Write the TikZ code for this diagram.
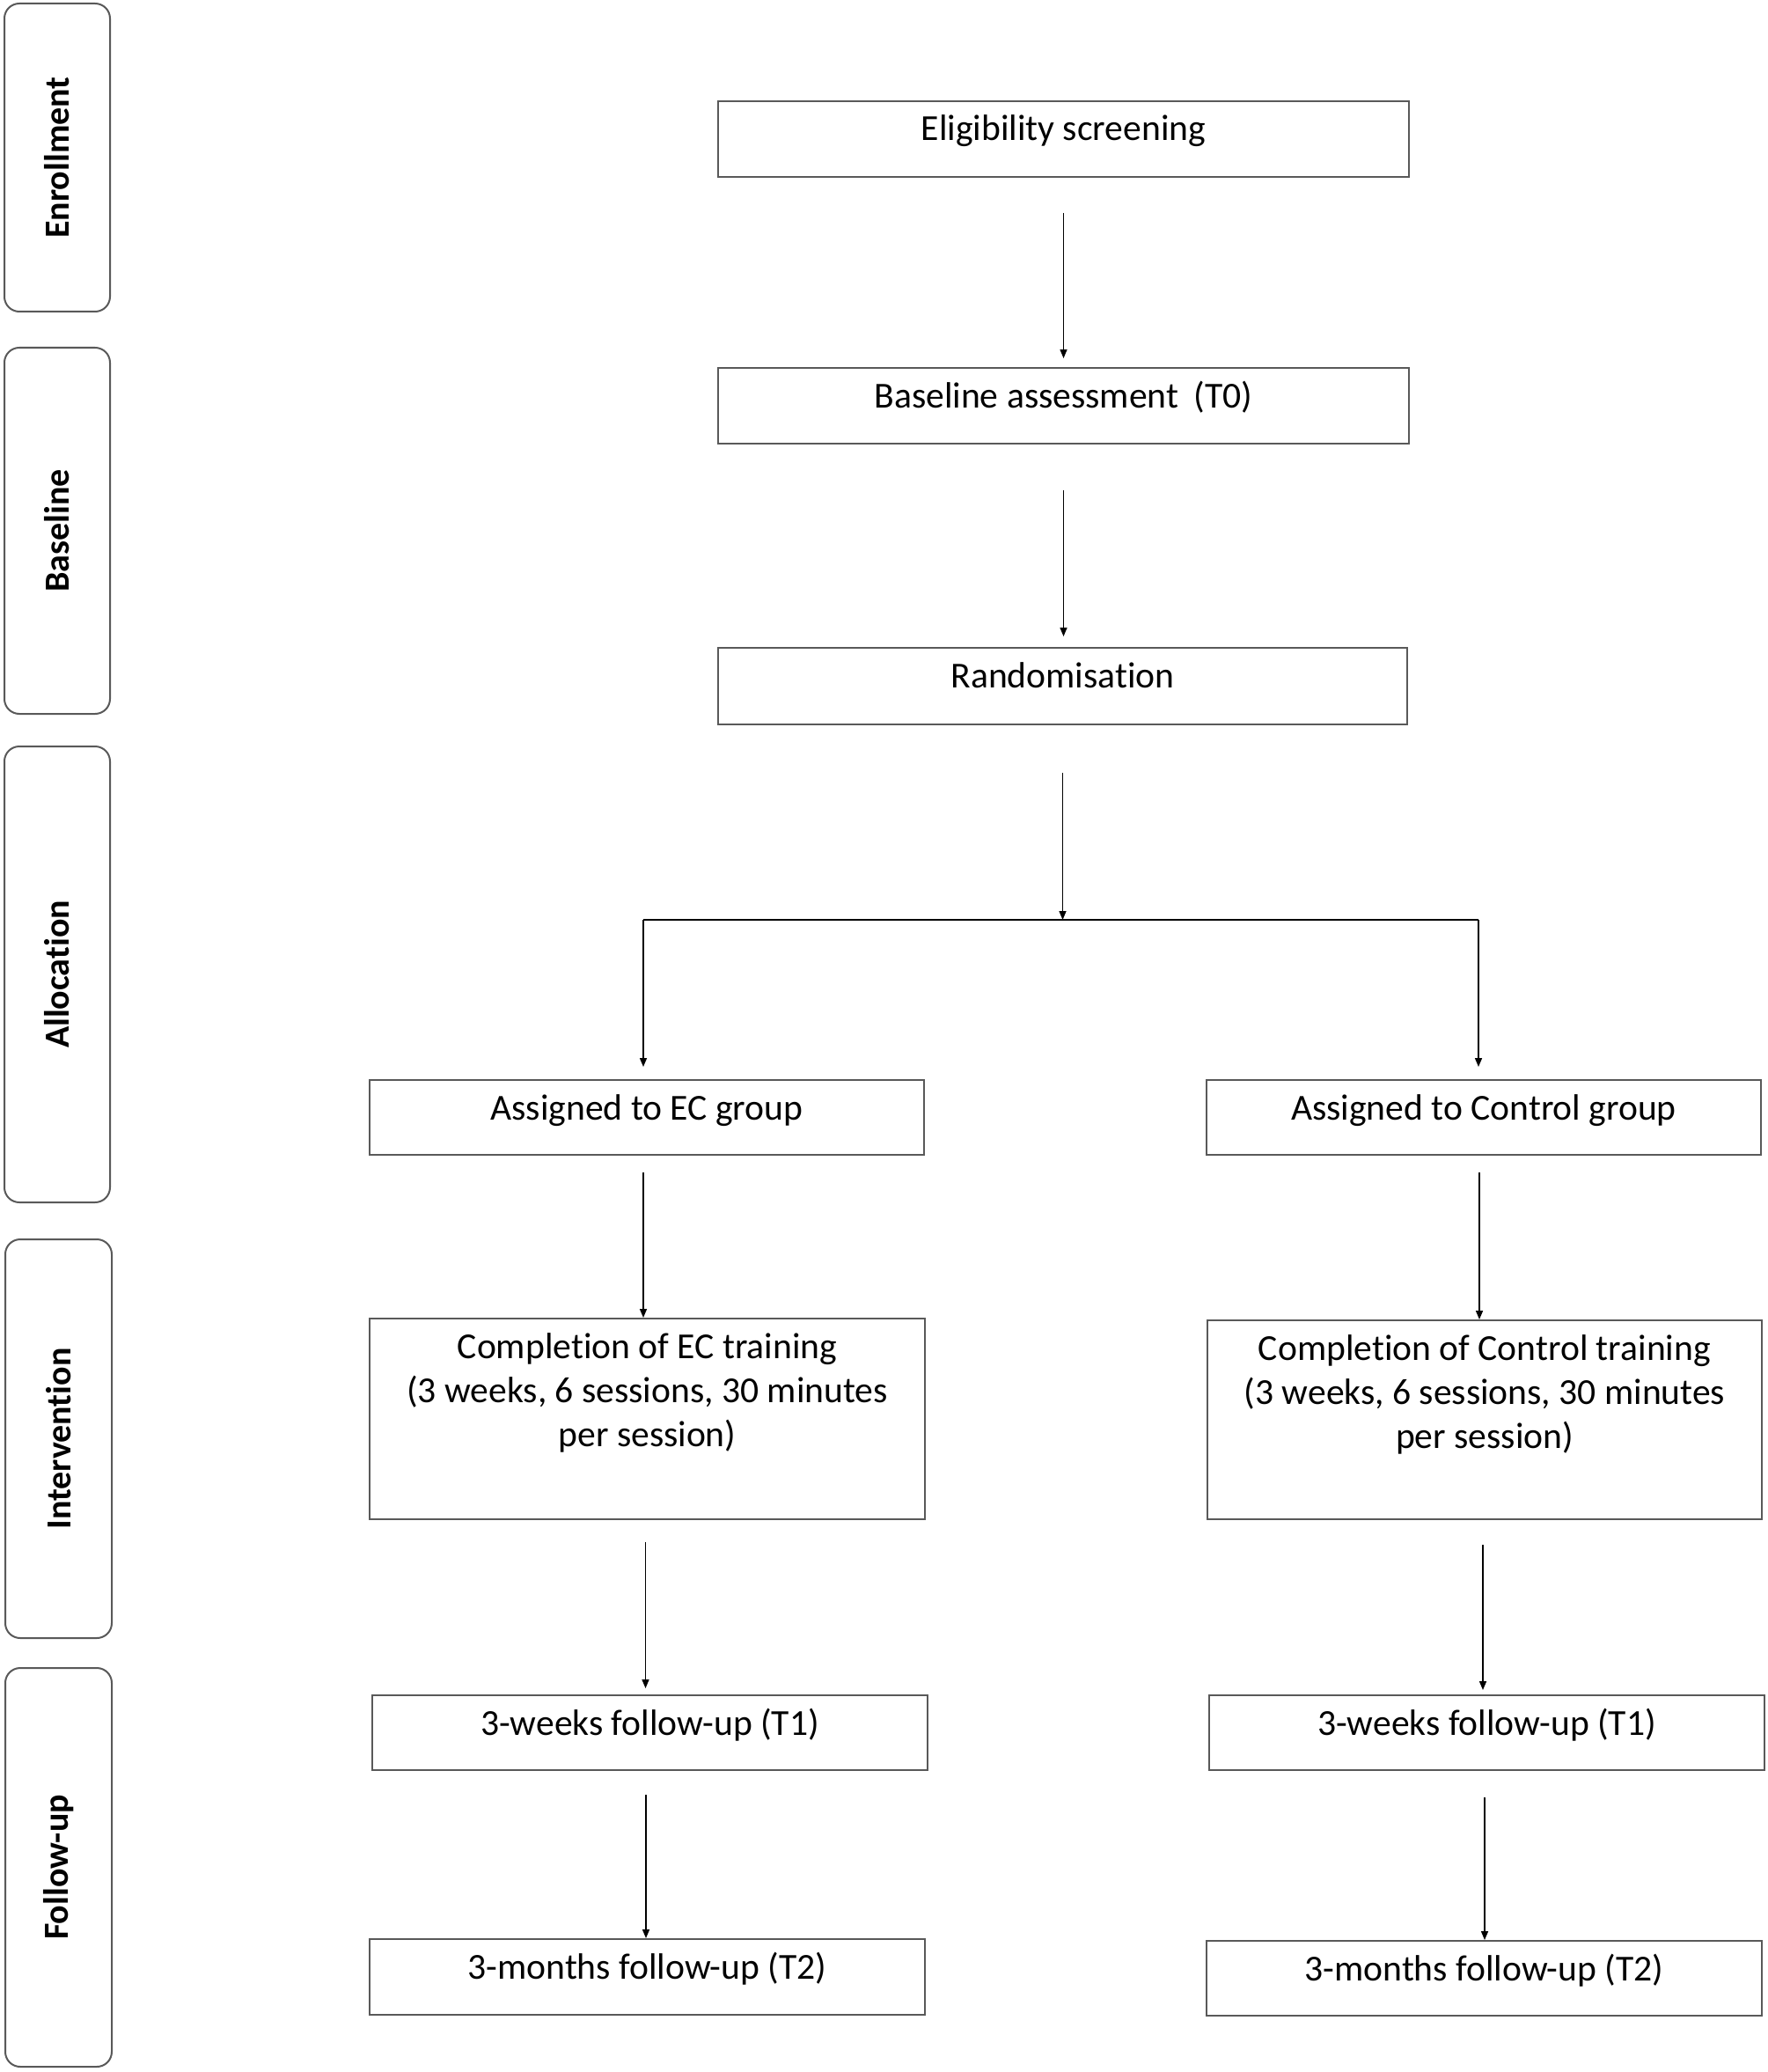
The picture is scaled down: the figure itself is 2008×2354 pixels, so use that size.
\documentclass[tikz,border=0pt]{standalone}
\usepackage{fontspec}
\setmainfont{Carlito}[Ligatures=NoCommon]
\usetikzlibrary{arrows.meta}
\begin{document}
\begin{tikzpicture}[x=0.5pt,y=-0.5pt,
  box/.style={draw=black!65, line width=1pt, inner sep=0pt, anchor=north west},
  phase/.style={draw=black!65, line width=1pt, rounded corners=8.5pt, inner sep=0pt, anchor=north west, minimum width=60pt},
  plabel/.style={rotate=90, font=\bfseries\fontsize{20}{24}\selectfont, inner sep=0pt},
  txt/.style={anchor=base, align=center, inner sep=0pt, font=\fontsize{20.8}{25}\selectfont},
  arr/.style={draw=black, line width=0.75pt, -{Triangle[length=5pt,width=4pt]}},
  ln/.style={draw=black, line width=0.75pt}]
\useasboundingbox (0,0) rectangle (2008,2354);

% phase boxes
\node[phase, minimum height=175pt] (enr) at (4,3) {};
\node[phase, minimum height=208pt] (bas) at (4,394) {};
\node[phase, minimum height=259pt] (alo) at (4,847) {};
\node[phase, minimum height=226.5pt, minimum width=60.5pt] (int) at (5,1407) {};
\node[phase, minimum height=226.5pt, minimum width=60.5pt] (fol) at (5,1894) {};
\node[plabel] (enrt) at (enr.center) {Enrollment};
\node[plabel] (bast) at (bas.center) {Baseline};
\node[plabel] (alot) at (alo.center) {Allocation};
\node[plabel] (intt) at (int.center) {Intervention};
\node[plabel] (folt) at (fol.center) {Follow-up};

% main boxes
\node[box, minimum width=392.5pt, minimum height=43pt] (elig) at (815,114) {};
\node[box, minimum width=392.5pt, minimum height=43pt] (base) at (815,417) {};
\node[box, minimum width=391.5pt, minimum height=43.5pt] (rand) at (815,735) {};
\node[box, minimum width=315pt, minimum height=42.5pt] (asgE) at (419,1226) {};
\node[box, minimum width=315pt, minimum height=42.5pt] (asgC) at (1370,1226) {};
\node[box, minimum width=315.5pt, minimum height=114pt] (cmpE) at (419,1497) {};
\node[box, minimum width=315pt, minimum height=113pt] (cmpC) at (1371,1499) {};
\node[box, minimum width=315.5pt, minimum height=42.5pt] (t1E) at (422,1925) {};
\node[box, minimum width=315.5pt, minimum height=42.5pt] (t1C) at (1373,1925) {};
\node[box, minimum width=315.5pt, minimum height=43pt] (t2E) at (419,2202) {};
\node[box, minimum width=315.5pt, minimum height=42.5pt] (t2C) at (1370,2204) {};

% texts
\node[txt] (eligt) at ([yshift=-23pt]elig.north) {Eligibility screening};
\node[txt] (baset) at ([yshift=-23pt]base.north) {Baseline assessment\hspace{0.2em} (T0)};
\node[txt] (randt) at ([yshift=-23pt]rand.north) {Randomisation};
\node[txt] (asgEt) at ([yshift=-23pt]asgE.north) {Assigned to EC group};
\node[txt] (asgCt) at ([yshift=-23pt]asgC.north) {Assigned to Control group};
\node[txt] (cmpEt) at ([yshift=-73pt]cmpE.north) {Completion of EC training\\(3 weeks, 6 sessions, 30 minutes\\per session)};
\node[txt] (cmpCt) at ([yshift=-73pt]cmpC.north) {Completion of Control training\\(3 weeks, 6 sessions, 30 minutes\\per session)};
\node[txt] (t1Et) at ([yshift=-23pt]t1E.north) {3-weeks follow-up (T1)};
\node[txt] (t1Ct) at ([yshift=-23pt]t1C.north) {3-weeks follow-up (T1)};
\node[txt] (t2Et) at ([yshift=-23pt]t2E.north) {3-months follow-up (T2)};
\node[txt] (t2Ct) at ([yshift=-23pt]t2C.north) {3-months follow-up (T2)};

% connectors
\coordinate (split) at (rand.south |- 0,1045);
\coordinate (splitL) at ([xshift=-2pt]asgE.north |- split);
\coordinate (splitR) at ([xshift=-3pt]asgC.north |- split);
\draw[arr, shorten <=20pt, shorten >=5pt] (elig.south) -- (elig.south |- base.north);
\draw[arr, shorten <=26pt, shorten >=6pt] (base.south) -- (base.south |- rand.north);
\draw[arr, shorten <=27pt] (rand.south) -- (split);
\draw[ln] (splitL) -- (splitR);
\draw[arr, shorten >=7pt] (splitL) -- (splitL |- asgE.north);
\draw[arr, shorten >=7pt] (splitR) -- (splitR |- asgC.north);
\draw[arr, shorten <=9.5pt] ([xshift=-2pt]asgE.south) -- ([xshift=-2pt]asgE.south |- cmpE.north);
\draw[arr, shorten <=9.5pt] ([xshift=-2.5pt]asgC.south) -- ([xshift=-2.5pt]asgC.south |- cmpC.north);
\draw[arr, shorten <=12.5pt, shorten >=3.5pt] ([xshift=-1pt]cmpE.south) -- ([xshift=-1pt]cmpE.south |- t1E.north);
\draw[arr, shorten <=14pt, shorten >=2.5pt] ([xshift=-1pt]cmpC.south) -- ([xshift=-1pt]cmpC.south |- t1C.north);
\draw[arr, shorten <=13.5pt] ([xshift=-2.25pt]t1E.south) -- ([xshift=-2.25pt]t1E.south |- t2E.north);
\draw[arr, shorten <=15pt] ([xshift=-1.25pt]t1C.south) -- ([xshift=-1.25pt]t1C.south |- t2C.north);
\end{tikzpicture}
\end{document}
